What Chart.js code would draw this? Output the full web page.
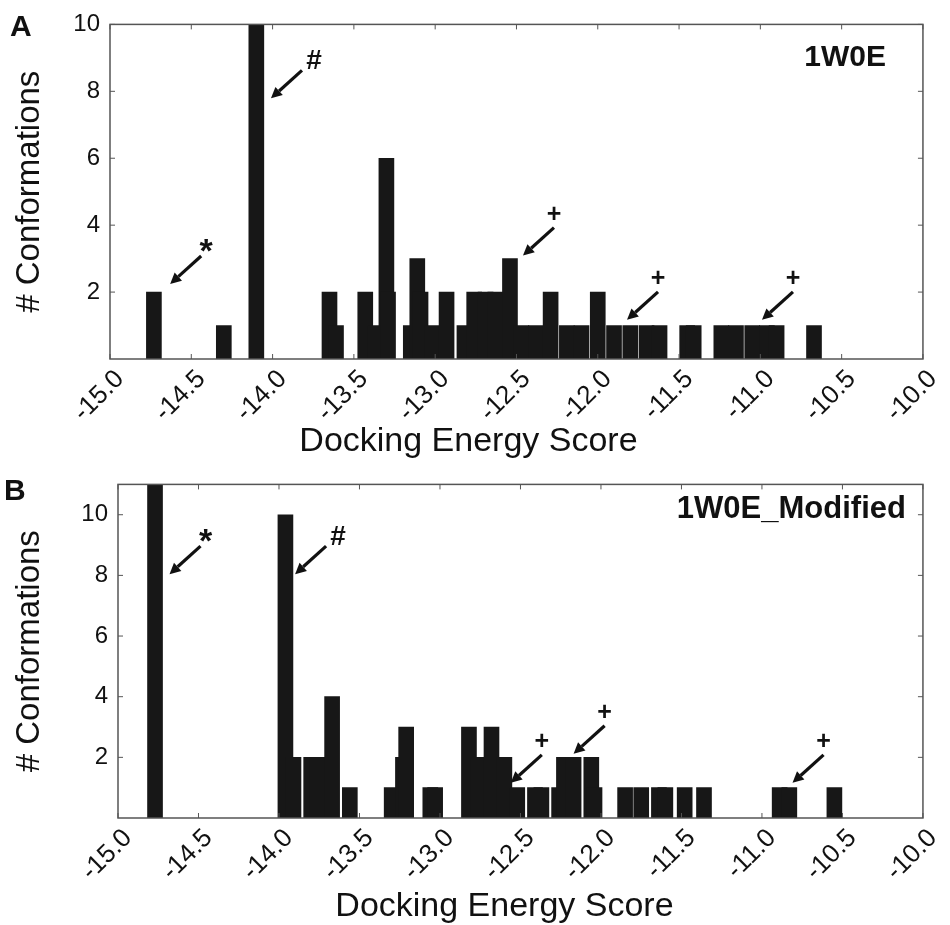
<!DOCTYPE html>
<html>
<head>
<meta charset="utf-8">
<script src="https://cdn.jsdelivr.net/npm/chart.js@4.4.1/dist/chart.umd.min.js"></script>
<style>
  body { margin: 0; background: #fff; }
  canvas { position: absolute; left: 0; }
  #chartA { top: 0; }
  #chartB { top: 460px; }
</style>
</head>
<body>
<canvas id="chartA" width="950" height="460"></canvas>
<canvas id="chartB" width="950" height="465"></canvas>
<script>
// tick labels
var xTicks = [-15.0, -14.5, -14.0, -13.5, -13.0, -12.5, -12.0, -11.5, -11.0, -10.5, -10.0];
var yTicks = [2, 4, 6, 8, 10];

// panel A: 1W0E
var energyA = [-14.73, -14.30, -14.10, -13.65, -13.61, -13.43, -13.37, -13.30, -13.29, -13.15,
               -13.11, -13.09, -13.02, -12.93, -12.82, -12.76, -12.69, -12.63, -12.54, -12.47,
               -12.38, -12.29, -12.19, -12.10, -12.00, -11.90, -11.80, -11.70, -11.62, -11.45,
               -11.41, -11.24, -11.15, -11.05, -10.96, -10.90, -10.67];
var countA = [2, 1, 10, 2, 1, 2, 1, 6, 2, 1,
              3, 2, 1, 2, 1, 2, 2, 2, 3, 1,
              1, 2, 1, 1, 2, 1, 1, 1, 1, 1,
              1, 1, 1, 1, 1, 1, 1];

// panel B: 1W0E_Modified
var energyB = [-14.77, -13.96, -13.91, -13.80, -13.76, -13.67, -13.56, -13.30, -13.23, -13.21,
               -13.06, -13.03, -12.82, -12.76, -12.68, -12.60, -12.52, -12.41, -12.37, -12.26,
               -12.23, -12.17, -12.06, -12.04, -11.85, -11.75, -11.64, -11.60, -11.48, -11.36,
               -10.89, -10.83, -10.55];
var countB = [11, 10, 2, 2, 2, 4, 1, 1, 2, 3,
              1, 1, 3, 2, 3, 2, 1, 1, 1, 1,
              2, 2, 2, 1, 1, 1, 1, 1, 1, 1,
              1, 1, 1];

// arrow annotations (tip position in data units)
var arrowsA = [
  { x: -14.63, y: 2.24, s: '*' },
  { x: -14.01, y: 7.79, s: '#' },
  { x: -12.46, y: 3.09, s: '+' },
  { x: -11.82, y: 1.17, s: '+' },
  { x: -10.99, y: 1.17, s: '+' }
];
var arrowsB = [
  { x: -14.68, y: 8.04, s: '*' },
  { x: -13.90, y: 8.04, s: '#' },
  { x: -12.56, y: 1.16, s: '+' },
  { x: -12.17, y: 2.12, s: '+' },
  { x: -10.81, y: 1.16, s: '+' }
];

var FONT = "'Liberation Sans', Arial, sans-serif";

var framePlugin = {
  id: 'frame',
  afterDraw: function (chart) {
    var ctx = chart.ctx, a = chart.chartArea;
    var xs = chart.scales.x, ys = chart.scales.y;
    ctx.save();
    ctx.strokeStyle = '#555';
    ctx.lineWidth = 1.5;
    ctx.strokeRect(a.left, a.top, a.right - a.left, a.bottom - a.top);
    ctx.lineWidth = 1;
    ctx.beginPath();
    xs.ticks.forEach(function (t) {
      var px = xs.getPixelForValue(t.value);
      ctx.moveTo(px, a.bottom); ctx.lineTo(px, a.bottom - 5);
      ctx.moveTo(px, a.top); ctx.lineTo(px, a.top + 5);
    });
    ys.ticks.forEach(function (t) {
      var py = ys.getPixelForValue(t.value);
      ctx.moveTo(a.left, py); ctx.lineTo(a.left + 5, py);
      ctx.moveTo(a.right, py); ctx.lineTo(a.right - 5, py);
    });
    ctx.stroke();
    ctx.restore();
  }
};

var symbolStyle = {
  '*': { font: 'bold 34px ' + FONT, dx: 5, dy: 6 },
  '#': { font: 'bold 28px ' + FONT, dx: 12, dy: -1 },
  '+': { font: 'bold 25px ' + FONT, dx: 0, dy: -6 }
};

var marksPlugin = {
  id: 'marks',
  afterDraw: function (chart, args, opts) {
    var ctx = chart.ctx, a = chart.chartArea;
    var xs = chart.scales.x, ys = chart.scales.y;
    ctx.save();
    ctx.fillStyle = '#111';
    ctx.strokeStyle = '#111';
    (opts.arrows || []).forEach(function (m) {
      var tx = xs.getPixelForValue(m.x), ty = ys.getPixelForValue(m.y);
      var ex = tx + 31, ey = ty - 28;
      var ang = Math.atan2(ty - ey, tx - ex);
      var hx = tx - 11 * Math.cos(ang), hy = ty - 11 * Math.sin(ang);
      ctx.lineWidth = 3.2;
      ctx.beginPath(); ctx.moveTo(ex, ey); ctx.lineTo(hx, hy); ctx.stroke();
      ctx.beginPath();
      ctx.moveTo(tx, ty);
      ctx.lineTo(hx + 5.5 * Math.sin(ang), hy - 5.5 * Math.cos(ang));
      ctx.lineTo(hx - 5.5 * Math.sin(ang), hy + 5.5 * Math.cos(ang));
      ctx.closePath(); ctx.fill();
      var st = symbolStyle[m.s];
      ctx.font = st.font;
      ctx.textAlign = 'center';
      ctx.textBaseline = 'alphabetic';
      ctx.fillText(m.s, ex + st.dx, ey + st.dy);
    });
    ctx.textBaseline = 'middle';
    // panel letter
    ctx.font = 'bold 30px ' + FONT;
    ctx.textAlign = 'left';
    ctx.fillText(opts.panel, opts.panelX, opts.panelY);
    // structure label
    ctx.font = 'bold ' + opts.labelSize + 'px ' + FONT;
    ctx.textAlign = 'right';
    ctx.fillText(opts.label, a.right - opts.labelDx, a.top + opts.labelDy);
    // x axis title
    ctx.font = '34px ' + FONT;
    ctx.textAlign = 'center';
    ctx.fillText('Docking Energy Score', (a.left + a.right) / 2 + opts.xTitleDx, opts.xTitleY);
    ctx.restore();
  }
};

function makeChart(id, energy, counts, yMax, cfg) {
  var ctx = document.getElementById(id).getContext('2d');
  return new Chart(ctx, {
    type: 'bar',
    data: {
      datasets: [{
        data: energy.map(function (e, i) { return { x: e, y: counts[i] }; }),
        backgroundColor: '#171717',
        borderWidth: 0,
        barThickness: 15,
        grouped: false
      }]
    },
    options: {
      responsive: false,
      animation: false,
      layout: { padding: { top: cfg.top, right: cfg.right, left: 0, bottom: 0 } },
      plugins: {
        legend: { display: false },
        tooltip: { enabled: false },
        marks: cfg.marks
      },
      scales: {
        x: {
          type: 'linear',
          offset: false,
          min: -15,
          max: -10,
          afterBuildTicks: function (s) { s.ticks = xTicks.map(function (v) { return { value: v }; }); },
          afterFit: function (s) { s.height = cfg.xHeight; },
          grid: { display: false, drawTicks: false },
          border: { display: false },
          ticks: {
            autoSkip: false,
            maxRotation: 45,
            minRotation: 45,
            padding: 5,
            labelOffset: 10,
            color: '#111',
            font: { family: FONT, size: 26 },
            callback: function (v) { return v.toFixed(1); }
          },
          title: { display: false }
        },
        y: {
          min: 0,
          max: yMax,
          afterBuildTicks: function (s) { s.ticks = yTicks.map(function (v) { return { value: v }; }); },
          afterFit: function (s) { s.width = cfg.yWidth; },
          grid: { display: false, drawTicks: false },
          border: { display: false },
          ticks: {
            padding: 10,
            color: '#111',
            font: { family: FONT, size: 24 }
          },
          title: {
            display: true,
            text: '# Conformations',
            color: '#111',
            font: { family: FONT, size: 33, lineHeight: 1 },
            padding: { top: 13, bottom: 0 }
          }
        }
      }
    },
    plugins: [framePlugin, marksPlugin]
  });
}

makeChart('chartA', energyA, countA, 10, {
  top: 19, right: 26, xHeight: 101, yWidth: 110,
  marks: { arrows: arrowsA, panel: 'A', panelX: 10, panelY: 28, label: '1W0E', labelSize: 30, labelDx: 37, labelDy: 33,
           xTitleDx: -48, xTitleY: 442 }
});

makeChart('chartB', energyB, countB, 11, {
  top: 23, right: 14, xHeight: 107, yWidth: 118,
  marks: { arrows: arrowsB, panel: 'B', panelX: 4, panelY: 32, label: '1W0E_Modified', labelSize: 31, labelDx: 17, labelDy: 25,
           xTitleDx: -16, xTitleY: 447 }
});
</script>
</body>
</html>
